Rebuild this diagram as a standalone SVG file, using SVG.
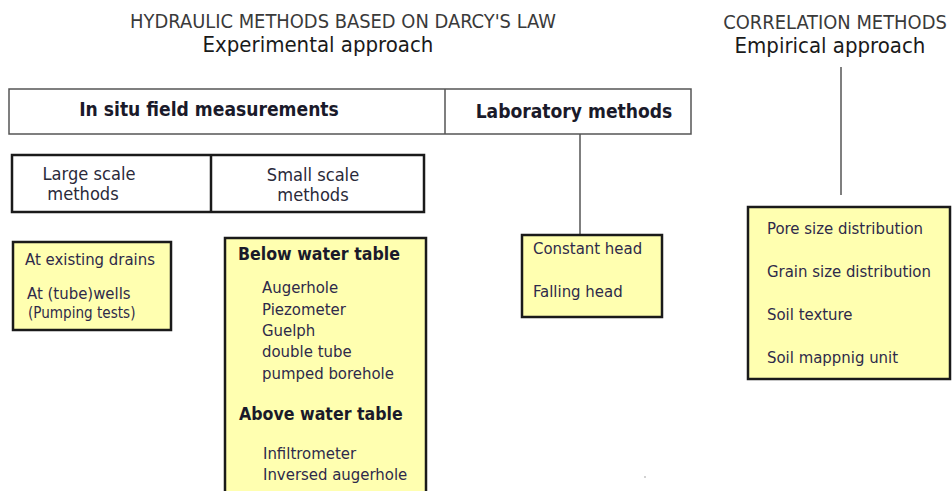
<svg xmlns="http://www.w3.org/2000/svg" width="952" height="491" viewBox="0 0 952 491">
<style>
text{font-family:"DejaVu Sans Condensed","DejaVu Sans",sans-serif;}
.title{font-size:19.9px;fill:#3a3a3a;}
.sub{font-size:22px;fill:#1a1a1a;}
.hdr{font-size:19.1px;font-weight:bold;fill:#1a1a2a;}
.cell{font-size:18.1px;fill:#2a2a3a;}
.item{font-size:16.6px;fill:#2e2a4a;}
.bold{font-size:17.6px;font-weight:bold;fill:#1a1a2a;}
.small{font-size:15.1px;fill:#2e2a4a;}
.ybox{fill:#ffffb0;stroke:#1a1a1a;stroke-width:2.5;}
.wbox{fill:#ffffff;stroke:#1a1a1a;stroke-width:2.5;}
.tbox{fill:#ffffff;stroke:#555555;stroke-width:1.5;}
.conn{stroke:#555555;stroke-width:1.5;fill:none;}
</style>
<rect width="952" height="491" fill="#ffffff"/>
<g id="title-hydraulic">
<text class="title" x="343" y="28" text-anchor="middle">HYDRAULIC METHODS BASED ON DARCY'S LAW</text>
<text class="sub" x="318" y="52" text-anchor="middle">Experimental approach</text>
</g>
<g id="title-correlation">
<text class="title" x="835" y="29" text-anchor="middle">CORRELATION METHODS</text>
<text class="sub" x="830" y="53" text-anchor="middle">Empirical approach</text>
</g>
<g id="connectors">
<line class="conn" x1="580" y1="134" x2="580" y2="235"/>
<line class="conn" x1="841" y1="67" x2="841" y2="195"/>
</g>
<g id="top-bar">
<rect class="tbox" x="9" y="89" width="682" height="45"/>
<line class="tbox" x1="445" y1="89" x2="445" y2="134"/>
<text class="hdr" x="209" y="116" text-anchor="middle">In situ field measurements</text>
<text class="hdr" x="574" y="118" text-anchor="middle">Laboratory methods</text>
</g>
<g id="scale-bar">
<rect class="wbox" x="12" y="155" width="412" height="57"/>
<line class="wbox" x1="211" y1="155" x2="211" y2="212"/>
<text class="cell" x="89" y="180" text-anchor="middle">Large scale</text>
<text class="cell" x="83" y="200" text-anchor="middle">methods</text>
<text class="cell" x="313" y="181" text-anchor="middle">Small scale</text>
<text class="cell" x="313" y="201" text-anchor="middle">methods</text>
</g>
<g id="large-scale-box">
<rect class="ybox" x="13" y="242" width="158" height="88"/>
<text class="item" x="25" y="265">At existing drains</text>
<text class="item" x="27" y="299">At (tube)wells</text>
<text class="small" x="28" y="318">(Pumping tests)</text>
</g>
<g id="small-scale-box">
<rect class="ybox" x="225" y="238" width="201" height="262"/>
<text class="bold" x="238" y="260">Below water table</text>
<text class="item" x="262" y="293">Augerhole</text>
<text class="item" x="262" y="315">Piezometer</text>
<text class="item" x="262" y="336">Guelph</text>
<text class="item" x="262" y="357">double tube</text>
<text class="item" x="262" y="379">pumped borehole</text>
<text class="bold" x="239" y="420">Above water table</text>
<text class="item" x="263" y="459">Infiltrometer</text>
<text class="item" x="263" y="480">Inversed augerhole</text>
</g>
<g id="lab-box">
<rect class="ybox" x="522" y="235" width="140" height="82"/>
<text class="item" x="533" y="254">Constant head</text>
<text class="item" x="533" y="297">Falling head</text>
</g>
<g id="correlation-box">
<rect class="ybox" x="748" y="207" width="202" height="172"/>
<text class="item" x="767" y="234">Pore size distribution</text>
<text class="item" x="767" y="277">Grain size distribution</text>
<text class="item" x="767" y="320">Soil texture</text>
<text class="item" x="767" y="363">Soil mappnig unit</text>
</g>
<circle cx="645" cy="477" r="0.8" fill="#999999"/>
</svg>
